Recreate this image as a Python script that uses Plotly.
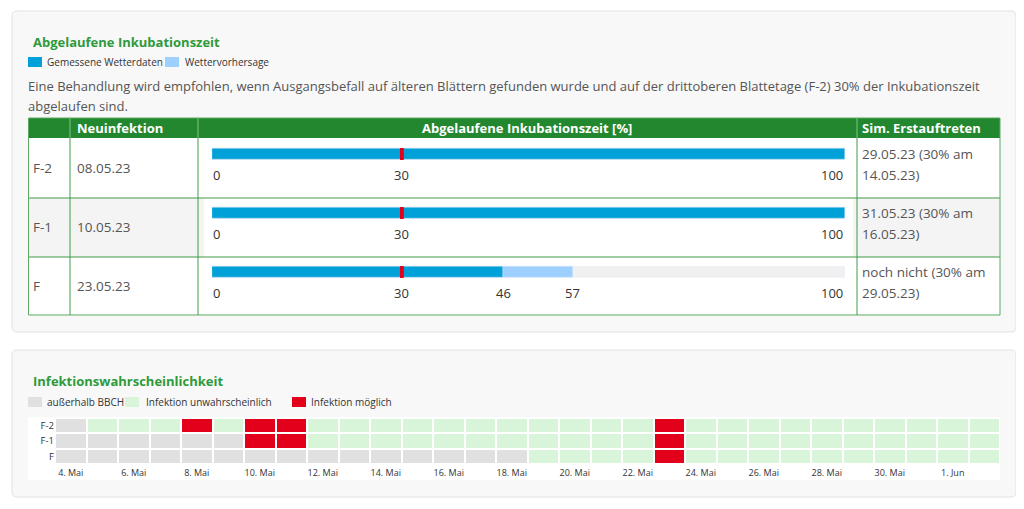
import plotly.graph_objects as go

# the page puts the figure 8px from the top-left corner; positions below are page pixels
OFF = 8
W, H = 1010, 497
def X(p): return (p - OFF) / W
def Y(p): return 1 - (p - OFF) / H

FONT = "Open Sans"
GREEN_TXT = "#2e9a3a"
HEAD_BG = "#22872e"
GRID = "#3f9c46"
BLUE = "#00a1d9"
LBLUE = "#9dcfff"
TRACK = "#f0f0f0"
RED = "#e2001a"
TXT = "#555555"
DARK = "#333333"

# ---------------- data ----------------
leaf_layers = ["F-2", "F-1", "F"]
new_infection = ["08.05.23", "10.05.23", "23.05.23"]
measured_pct = [100, 100, 46]
forecast_pct = [100, 100, 57]
threshold_pct = 30
sim_onset_line1 = ["29.05.23 (30% am", "31.05.23 (30% am", "noch nicht (30% am"]
sim_onset_line2 = ["14.05.23)", "16.05.23)", "29.05.23)"]

days = ["2023-05-%02d" % d for d in range(4, 32)] + ["2023-06-01", "2023-06-02"]
# 0 = außerhalb BBCH, 1 = Infektion unwahrscheinlich, 2 = Infektion möglich
status_F2 = [0, 1, 1, 1, 2, 1, 2, 2, 1, 1, 1, 1, 1, 1, 1, 1, 1, 1, 1, 2, 1, 1, 1, 1, 1, 1, 1, 1, 1, 1]
status_F1 = [0, 0, 0, 0, 0, 0, 2, 2, 1, 1, 1, 1, 1, 1, 1, 1, 1, 1, 1, 2, 1, 1, 1, 1, 1, 1, 1, 1, 1, 1]
status_F = [0, 0, 0, 0, 0, 0, 0, 0, 0, 0, 0, 0, 0, 0, 0, 1, 1, 1, 1, 2, 1, 1, 1, 1, 1, 1, 1, 1, 1, 1]
tick_dates = ["2023-05-04", "2023-05-06", "2023-05-08", "2023-05-10", "2023-05-12",
              "2023-05-14", "2023-05-16", "2023-05-18", "2023-05-20", "2023-05-22",
              "2023-05-24", "2023-05-26", "2023-05-28", "2023-05-30", "2023-06-01"]
tick_labels = ["4. Mai", "6. Mai", "8. Mai", "10. Mai", "12. Mai", "14. Mai", "16. Mai",
               "18. Mai", "20. Mai", "22. Mai", "24. Mai", "26. Mai", "28. Mai",
               "30. Mai", "1. Jun"]
status_names = ["außerhalb BBCH", "Infektion unwahrscheinlich", "Infektion möglich"]
status_colors = ["#e0e0e0", "#d8f5da", RED]

fig = go.Figure()

# ---------------- bars ----------------
bw = 0.2
fig.add_trace(go.Bar(y=leaf_layers, x=[100, 100, 100], orientation="h", marker_color=TRACK,
                     width=bw, xaxis="x", yaxis="y", hoverinfo="skip", showlegend=False))
fig.add_trace(go.Bar(y=leaf_layers, x=forecast_pct, orientation="h", marker_color=LBLUE,
                     width=bw, xaxis="x", yaxis="y", name="Wettervorhersage", showlegend=False))
fig.add_trace(go.Bar(y=leaf_layers, x=measured_pct, orientation="h", marker_color=BLUE,
                     width=bw, xaxis="x", yaxis="y", name="Gemessene Wetterdaten", showlegend=False))

# ---------------- heatmap ----------------
z = [status_F, status_F1, status_F2]
cs = [[0, status_colors[0]], [0.333, status_colors[0]], [0.333, status_colors[1]],
      [0.667, status_colors[1]], [0.667, status_colors[2]], [1, status_colors[2]]]
fig.add_trace(go.Heatmap(x=days, y=["F", "F-1", "F-2"], z=z, zmin=0, zmax=2, colorscale=cs,
                         showscale=False, xgap=2, ygap=2, xaxis="x2", yaxis="y2",
                         hoverinfo="skip"))

shapes = []
annotations = []

def rrect(x0, y0, x1, y1, r, fill, line):
    p = (f"M {X(x0+r)},{Y(y0)} L {X(x1-r)},{Y(y0)} Q {X(x1)},{Y(y0)} {X(x1)},{Y(y0+r)} "
         f"L {X(x1)},{Y(y1-r)} Q {X(x1)},{Y(y1)} {X(x1-r)},{Y(y1)} "
         f"L {X(x0+r)},{Y(y1)} Q {X(x0)},{Y(y1)} {X(x0)},{Y(y1-r)} "
         f"L {X(x0)},{Y(y0+r)} Q {X(x0)},{Y(y0)} {X(x0+r)},{Y(y0)} Z")
    shapes.append(dict(type="path", path=p, xref="paper", yref="paper", fillcolor=fill,
                       line=dict(color=line, width=1), layer="below"))

def rect(x0, y0, x1, y1, fill, line=None, lw=0, layer="below"):
    shapes.append(dict(type="rect", xref="paper", yref="paper", x0=X(x0), x1=X(x1),
                       y0=Y(y1), y1=Y(y0), fillcolor=fill,
                       line=dict(color=line or fill, width=lw), layer=layer))

def line(x0, y0, x1, y1, color, w=1):
    shapes.append(dict(type="line", xref="paper", yref="paper", x0=X(x0), x1=X(x1),
                       y0=Y(y0), y1=Y(y1), line=dict(color=color, width=w), layer="below"))

def text(x, y, s, size=13, color=TXT, bold=False, anchor="left"):
    if bold:
        s = "<b>" + s + "</b>"
    if anchor == "left":
        x -= 2
    annotations.append(dict(x=X(x), y=Y(y), xref="paper", yref="paper", text=s,
                            showarrow=False, xanchor=anchor, yanchor="middle",
                            font=dict(family=FONT, size=size, color=color)))

# panels
rrect(12, 11, 1016, 332, 5, "#f8f8f8", "#e2e2e2")
rrect(12, 350, 1016, 497, 5, "#f8f8f8", "#e2e2e2")

# panel 1 header
text(33, 42, "Abgelaufene Inkubationszeit", size=13, color=GREEN_TXT, bold=True)
rect(28, 57, 42, 67, BLUE)
text(47, 62, "Gemessene Wetterdaten", size=10, color=DARK)
rect(165, 57, 179, 67, LBLUE)
text(185, 62, "Wettervorhersage", size=10, color=DARK)
text(28, 86, "Eine Behandlung wird empfohlen, wenn Ausgangsbefall auf älteren Blättern gefunden "
     "wurde und auf der drittoberen Blattetage (F-2) 30% der Inkubationszeit", size=13, color=TXT)
text(28, 106, "abgelaufen sind.", size=13, color=TXT)

# table
rect(28, 138, 1000, 315, "#ffffff")
rect(28, 198, 1000, 257, "#f4f4f4")
rect(204, 139, 853, 314, "#ffffff")
rect(28, 118, 1000, 138, HEAD_BG)
for xv in (70, 198, 857):
    line(xv, 118, xv, 138, "#7fc487")
    line(xv, 138, xv, 315, GRID)
for yv in (198, 257):
    line(28, yv, 1000, yv, GRID)
shapes.append(dict(type="rect", xref="paper", yref="paper", x0=X(28.5), x1=X(1000),
                   y0=Y(315), y1=Y(118), fillcolor="rgba(0,0,0,0)",
                   line=dict(color="#5aaa5f", width=1), layer="below"))
text(77, 128, "Neuinfektion", size=13, color="#ffffff", bold=True)
text(527, 128, "Abgelaufene Inkubationszeit [%]", size=13, color="#ffffff", bold=True, anchor="center")
text(862, 128, "Sim. Erstauftreten", size=13, color="#ffffff", bold=True)
row_centers = [168, 227, 286]
for i, yc in enumerate(row_centers):
    text(33, yc, leaf_layers[i], size=13.5)
    text(77, yc, new_infection[i], size=13.5)
    text(862, yc - 14, sim_onset_line1[i], size=13.5)
    text(862, yc + 7, sim_onset_line2[i], size=13.5)

# bar value labels and threshold marker (data coordinates of the bar axes)
for i in range(len(leaf_layers)):
    shapes.append(dict(type="rect", xref="x", yref="y", x0=threshold_pct - 0.3,
                       x1=threshold_pct + 0.3, y0=i - bw / 2, y1=i + bw / 2,
                       fillcolor=RED, line=dict(width=0), layer="above"))
    labels = [(0, "0", "left"), (threshold_pct, str(threshold_pct), "center")]
    if measured_pct[i] < 100:
        labels.append((measured_pct[i], str(measured_pct[i]), "center"))
    if forecast_pct[i] < 100:
        labels.append((forecast_pct[i], str(forecast_pct[i]), "center"))
    labels.append((100, "100", "right"))
    for xv, s, anc in labels:
        annotations.append(dict(x=xv, y=i + 0.35, xref="x", yref="y", text=s, showarrow=False,
                                xanchor=anc, yanchor="middle", xshift=-1 if anc == "left" else 0,
                                font=dict(family=FONT, size=13, color=DARK)))

# panel 2
text(33, 381, "Infektionswahrscheinlichkeit", size=13, color=GREEN_TXT, bold=True)
leg_x = [(28, 47), (125, 146), (292, 311)]
for (sx, tx), nm, col in zip(leg_x, status_names, status_colors):
    rect(sx, 397, sx + 14, 407, col)
    text(tx, 402, nm, size=10, color=DARK)
rect(28, 417, 1000, 480, "#ffffff")

fig.update_layout(
    width=W, height=H, margin=dict(l=0, r=0, t=0, b=0),
    paper_bgcolor="#ffffff", plot_bgcolor="rgba(0,0,0,0)",
    barmode="overlay", bargap=0,
    shapes=shapes, annotations=annotations,
    font=dict(family=FONT, color=DARK),
    xaxis=dict(domain=[X(212), X(845)], range=[0, 100], visible=False, fixedrange=True),
    yaxis=dict(domain=[Y(301.5), Y(124.5)], type="category", categoryarray=leaf_layers,
               range=[2.5, -0.5], visible=False, fixedrange=True),
    xaxis2=dict(domain=[X(55), X(1000)], type="date",
                range=["2023-05-03 12:00", "2023-06-02 12:00"],
                tickvals=tick_dates, ticktext=tick_labels, showgrid=False, zeroline=False,
                tickfont=dict(size=9, color=DARK, family=FONT), ticks="", anchor="y2",
                ticklabelstandoff=2),
    yaxis2=dict(domain=[Y(464), Y(418)], type="category", categoryarray=["F", "F-1", "F-2"],
                showgrid=False, zeroline=False, ticks="", anchor="x2",
                tickfont=dict(size=9.5, color=DARK, family=FONT)),
)

fig.write_html("out.html")
